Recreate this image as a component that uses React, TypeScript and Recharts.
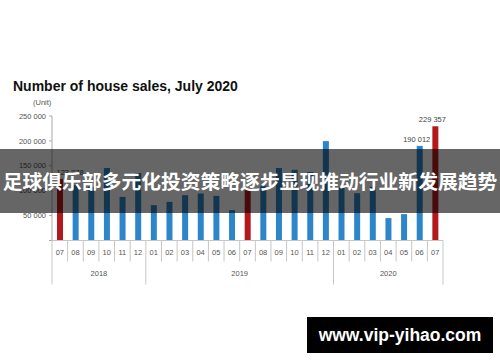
import React from 'react';
import { BarChart, Bar, XAxis, YAxis, Cell, LabelList } from 'recharts';

const months = ['07', '08', '09', '10', '11', '12', '01', '02', '03', '04', '05', '06', '07', '08', '09', '10', '11', '12', '01', '02', '03', '04', '05', '06', '07'];
const years = ['2018', '2019', '2020'];
const monthsPerYear = [6, 12, 7];
const sales = [123878, 112000, 108000, 145600, 87600, 135600, 71000, 77600, 91000, 94400, 89600, 61000, 101000, 109000, 145600, 142000, 137600, 199600, 106000, 95000, 108000, 45000, 53000, 190012, 229357];
const labelledIdx = [0, 23, 24];
const yTicks = [0, 50000, 100000, 150000, 200000, 250000];

const W = 500;
const H = 362;
const M = { top: 116, right: 57, bottom: 76.5, left: 0 };
const Y_W = 52;
const BAND = (W - M.left - M.right - Y_W) / months.length;

const FONT = '"Liberation Sans", Arial, sans-serif';
const BLUE = '#2d86c9';
const RED = '#b3191c';
const LINE = '#c6c6c6';

// thousands with a no-break space so the axis text does not wrap
const fmt = (v: number) => String(v).replace(/\B(?=(\d{3})+(?!\d))/g, '\u00a0');

// index of first month in each year
const yearStarts: number[] = [];
monthsPerYear.reduce((acc, n) => { yearStarts.push(acc); return acc + n; }, 0);

const data = months.map((m, i) => ({ key: `${i}-${m}`, month: m, sales: sales[i] }));

const MonthTick = (props: any) => {
  const { x, y, payload } = props;
  const i: number = payload.index;
  const left = x - BAND / 2;
  const longLine = yearStarts.includes(i);
  const last = i === months.length - 1;
  const yi = yearStarts.findIndex((s, k) => Math.floor(s + (monthsPerYear[k] - 1) / 2) === i);
  let yearX = x;
  if (yi >= 0) {
    const mid = yearStarts[yi] + (monthsPerYear[yi] - 1) / 2;
    yearX = x + (mid - i) * BAND;
  }
  return (
    <g>
      <line x1={left} x2={left} y1={y} y2={y + (longLine ? 44 : 21)} stroke={LINE} />
      {last && <line x1={x + BAND / 2} x2={x + BAND / 2} y1={y} y2={y + 44} stroke={LINE} />}
      <text x={x} y={y + 14.3} textAnchor="middle" fontSize={7.5} fill="#555" fontFamily={FONT}>
        {months[i]}
      </text>
      {yi >= 0 && (
        <text x={yearX} y={y + 35.6} textAnchor="middle" fontSize={7.5} fill="#555" fontFamily={FONT}>
          {years[yi]}
        </text>
      )}
    </g>
  );
};

const ValueLabel = (props: any) => {
  const { x, y, width, value, index } = props;
  if (!labelledIdx.includes(index)) return null;
  const first = index === 0;
  return (
    <text
      x={first ? x - 0.5 : x + width / 2 - 3}
      y={y - 4}
      textAnchor={first ? 'start' : 'middle'}
      fontSize={7.5}
      fill="#444"
      fontFamily={FONT}
    >
      {fmt(value)}
    </text>
  );
};

export default function App() {
  return (
    <div style={{ position: 'absolute', left: 0, top: 0, width: W, height: H, background: '#fff', overflow: 'hidden', fontFamily: FONT }}>
      <div style={{ position: 'absolute', left: 13, top: 79, fontSize: 14, fontWeight: 'bold', lineHeight: 1, color: '#111', whiteSpace: 'nowrap' }}>
        Number of house sales, July 2020
      </div>
      <div style={{ position: 'absolute', left: 33, top: 99.3, fontSize: 7.5, lineHeight: 1, color: '#555' }}>(Unit)</div>

      <BarChart width={W} height={H} data={data} margin={M} barCategoryGap={0}>
        <XAxis
          dataKey="key"
          interval={0}
          height={45}
          tickSize={0}
          tickMargin={0}
          tickLine={false}
          axisLine={{ stroke: LINE }}
          tick={<MonthTick />}
        />
        <YAxis
          width={Y_W}
          domain={[0, 250000]}
          ticks={yTicks}
          tickFormatter={(v: number) => (v === 0 ? '' : fmt(v))}
          tick={{ fontSize: 7.5, fill: '#555', fontFamily: FONT }}
          tickSize={3}
          tickMargin={3}
          tickLine={{ stroke: '#aaa' }}
          axisLine={{ stroke: '#aaa' }}
        />
        <Bar dataKey="sales" barSize={6} isAnimationActive={false}>
          {data.map((d) => (
            <Cell key={d.key} fill={d.month === '07' ? RED : BLUE} />
          ))}
          <LabelList dataKey="sales" content={<ValueLabel />} />
        </Bar>
      </BarChart>

      <div
        style={{
          position: 'absolute', left: 0, top: 149, width: W, height: 64,
          background: 'rgba(0,0,0,0.6)', display: 'flex', justifyContent: 'center', alignItems: 'center',
        }}
      >
        <span
          style={{
            color: '#fff', fontWeight: 'bold', fontSize: 19.8, lineHeight: 1, whiteSpace: 'nowrap',
            fontFamily: '"Noto Sans CJK SC", sans-serif',
          }}
        >
          足球俱乐部多元化投资策略逐步显现推动行业新发展趋势
        </span>
      </div>
      <div
        style={{
          position: 'absolute', left: 307, top: 317, width: 186, height: 36,
          background: '#000', color: '#fff', fontWeight: 'bold', fontSize: 17.5,
          lineHeight: '36px', textAlign: 'center', whiteSpace: 'nowrap',
        }}
      >
        www.vip-yihao.com
      </div>
    </div>
  );
}
